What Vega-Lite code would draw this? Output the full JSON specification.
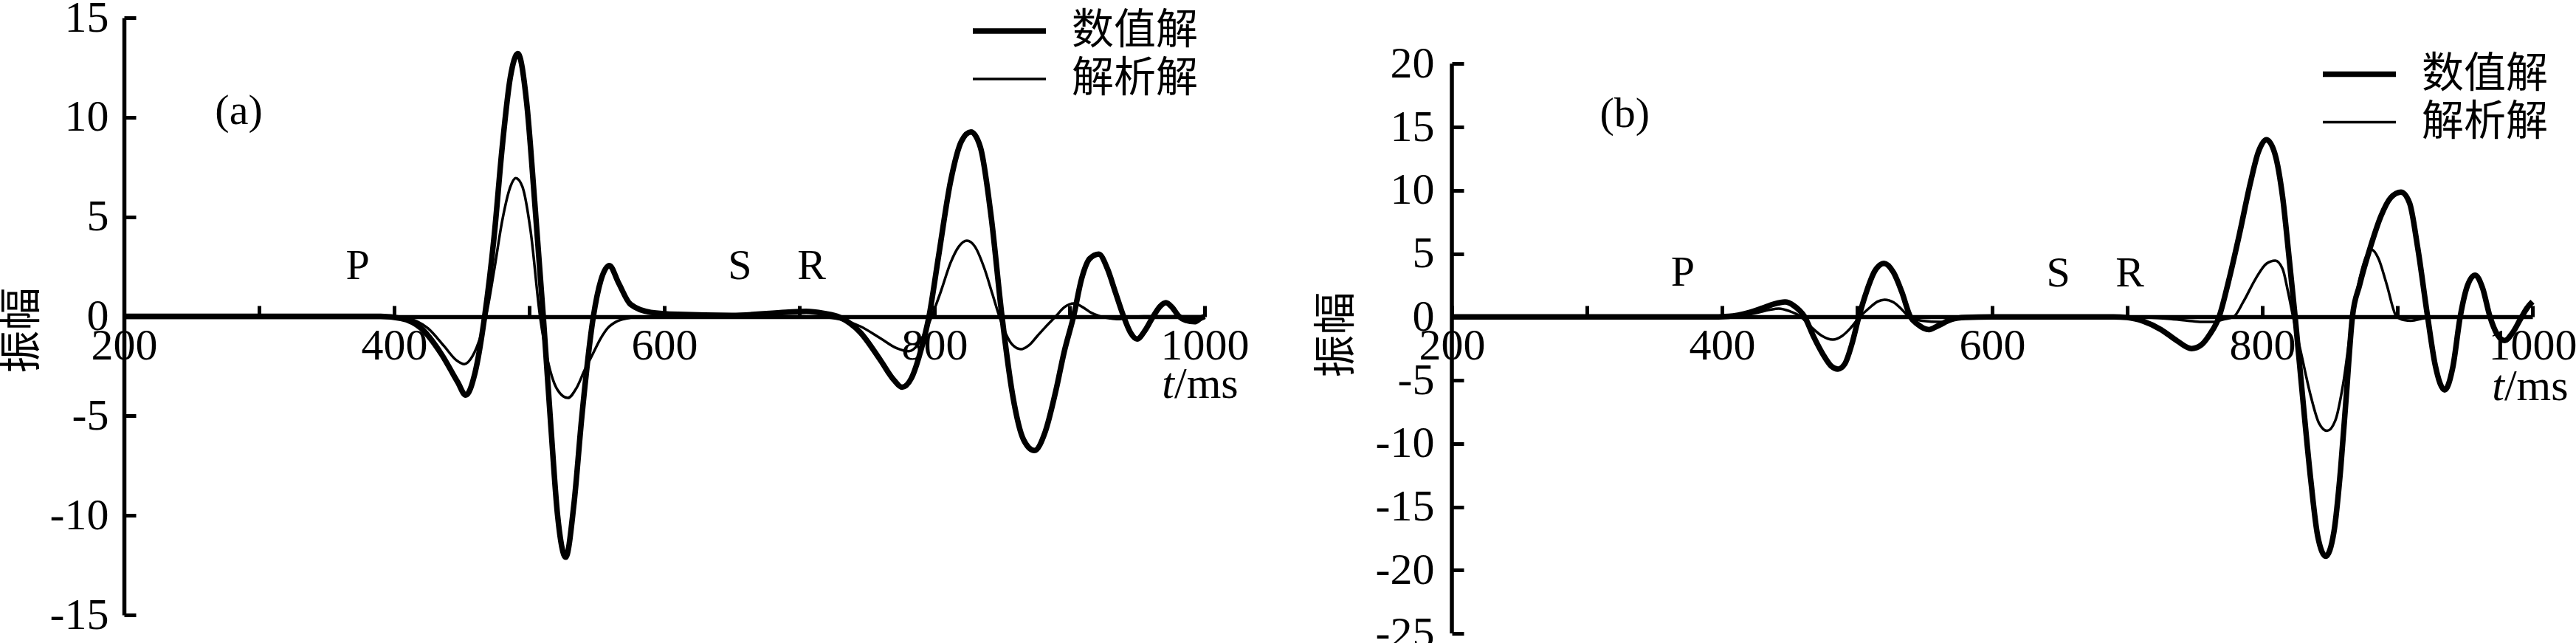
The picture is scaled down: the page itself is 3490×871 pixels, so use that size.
{
  "$schema": "https://vega.github.io/schema/vega-lite/v6.json",
  "background": "white",
  "padding": {"left": 168, "top": 24, "right": 3322, "bottom": 847},
  "autosize": {"type": "none"},
  "bounds": "flush",
  "spacing": 335,
  "config": {
    "view": {"stroke": null},
    "font": "Liberation Serif",
    "axis": {
      "grid": false,
      "domainColor": "black",
      "domainWidth": 5.5,
      "tickColor": "black",
      "tickWidth": 5,
      "labelFont": "Liberation Serif",
      "labelFontSize": 60,
      "labelColor": "black",
      "labelFlush": false,
      "labelOverlap": false,
      "titleColor": "black",
      "titleFontWeight": "normal"
    },
    "legend": {
      "labelFont": "Noto Sans CJK SC",
      "labelFontSize": 57,
      "labelColor": "black",
      "labelLimit": 600,
      "padding": 0
    }
  },
  "resolve": {
    "scale": {"x": "independent", "y": "independent", "strokeWidth": "independent"},
    "axis": {"x": "independent", "y": "independent"},
    "legend": {"strokeWidth": "independent"}
  },
  "hconcat": [
    {
      "width": 1464,
      "height": 809,
      "layer": [
        {
          "data": {"values": [
            {"t":200,"v":0,"s":"数值解"},{"t":300,"v":0,"s":"数值解"},{"t":390,"v":0,"s":"数值解"},{"t":405,"v":-0.1,"s":"数值解"},{"t":420,"v":-0.6,"s":"数值解"},{"t":435,"v":-1.9,"s":"数值解"},{"t":447,"v":-3.3,"s":"数值解"},{"t":453,"v":-3.96,"s":"数值解"},{"t":460,"v":-2.8,"s":"数值解"},{"t":467,"v":0,"s":"数值解"},{"t":474,"v":4,"s":"数值解"},{"t":480,"v":8.5,"s":"数值解"},{"t":486,"v":12,"s":"数值解"},{"t":491.6,"v":13.2,"s":"数值解"},{"t":498,"v":10.8,"s":"数值解"},{"t":504,"v":5.8,"s":"数值解"},{"t":510.4,"v":0,"s":"数值解"},{"t":516,"v":-5.5,"s":"数值解"},{"t":521,"v":-10,"s":"数值解"},{"t":527,"v":-12.1,"s":"数值解"},{"t":533,"v":-9.5,"s":"数值解"},{"t":539,"v":-5,"s":"数值解"},{"t":547.5,"v":0,"s":"数值解"},{"t":553,"v":1.8,"s":"数值解"},{"t":559.4,"v":2.55,"s":"数值解"},{"t":566,"v":1.7,"s":"数值解"},{"t":575,"v":0.6,"s":"数值解"},{"t":590,"v":0.2,"s":"数值解"},{"t":610,"v":0.1,"s":"数值解"},{"t":650,"v":0.05,"s":"数值解"},{"t":690,"v":0.2,"s":"数值解"},{"t":705,"v":0.25,"s":"数值解"},{"t":718,"v":0.15,"s":"数值解"},{"t":730,"v":-0.05,"s":"数值解"},{"t":745,"v":-0.8,"s":"数值解"},{"t":760,"v":-2.2,"s":"数值解"},{"t":770,"v":-3.2,"s":"数值解"},{"t":776,"v":-3.56,"s":"数值解"},{"t":783,"v":-3.1,"s":"数值解"},{"t":790,"v":-1.7,"s":"数值解"},{"t":796,"v":0,"s":"数值解"},{"t":803,"v":3,"s":"数值解"},{"t":812,"v":6.8,"s":"数值解"},{"t":820,"v":8.8,"s":"数值解"},{"t":827,"v":9.26,"s":"数值解"},{"t":834,"v":8.5,"s":"数值解"},{"t":842,"v":5,"s":"数值解"},{"t":850,"v":0,"s":"数值解"},{"t":858,"v":-4,"s":"数值解"},{"t":866,"v":-6.2,"s":"数值解"},{"t":874,"v":-6.74,"s":"数值解"},{"t":882,"v":-5.8,"s":"数值解"},{"t":890,"v":-3.7,"s":"数值解"},{"t":896,"v":-1.8,"s":"数值解"},{"t":903,"v":0,"s":"数值解"},{"t":909,"v":1.9,"s":"数值解"},{"t":915,"v":2.9,"s":"数值解"},{"t":921.7,"v":3.12,"s":"数值解"},{"t":928,"v":2.4,"s":"数值解"},{"t":934,"v":1.2,"s":"数值解"},{"t":940,"v":0,"s":"数值解"},{"t":945,"v":-0.8,"s":"数值解"},{"t":950,"v":-1.14,"s":"数值解"},{"t":956,"v":-0.7,"s":"数值解"},{"t":962,"v":0,"s":"数值解"},{"t":967,"v":0.5,"s":"数值解"},{"t":971.4,"v":0.69,"s":"数值解"},{"t":976,"v":0.45,"s":"数值解"},{"t":981,"v":0,"s":"数值解"},{"t":986,"v":-0.2,"s":"数值解"},{"t":992.7,"v":-0.27,"s":"数值解"},{"t":997,"v":-0.1,"s":"数值解"},{"t":1000,"v":0,"s":"数值解"},
            {"t":200,"v":0,"s":"解析解"},{"t":300,"v":0,"s":"解析解"},{"t":395,"v":0,"s":"解析解"},{"t":410,"v":-0.1,"s":"解析解"},{"t":425,"v":-0.6,"s":"解析解"},{"t":437,"v":-1.5,"s":"解析解"},{"t":446,"v":-2.2,"s":"解析解"},{"t":452,"v":-2.4,"s":"解析解"},{"t":458,"v":-2.0,"s":"解析解"},{"t":464,"v":-1.0,"s":"解析解"},{"t":468,"v":0,"s":"解析解"},{"t":474,"v":2.3,"s":"解析解"},{"t":480,"v":4.8,"s":"解析解"},{"t":486,"v":6.5,"s":"解析解"},{"t":490,"v":6.94,"s":"解析解"},{"t":495,"v":6.5,"s":"解析解"},{"t":501,"v":4.3,"s":"解析解"},{"t":508,"v":0,"s":"解析解"},{"t":514,"v":-2.3,"s":"解析解"},{"t":521,"v":-3.7,"s":"解析解"},{"t":528.6,"v":-4.1,"s":"解析解"},{"t":535,"v":-3.6,"s":"解析解"},{"t":541,"v":-2.7,"s":"解析解"},{"t":547,"v":-1.9,"s":"解析解"},{"t":553,"v":-1.1,"s":"解析解"},{"t":558,"v":-0.6,"s":"解析解"},{"t":565,"v":-0.25,"s":"解析解"},{"t":575,"v":-0.07,"s":"解析解"},{"t":590,"v":0,"s":"解析解"},{"t":700,"v":0,"s":"解析解"},{"t":715,"v":-0.03,"s":"解析解"},{"t":730,"v":-0.15,"s":"解析解"},{"t":745,"v":-0.5,"s":"解析解"},{"t":760,"v":-1.1,"s":"解析解"},{"t":772,"v":-1.6,"s":"解析解"},{"t":781,"v":-1.75,"s":"解析解"},{"t":788,"v":-1.4,"s":"解析解"},{"t":793,"v":-0.8,"s":"解析解"},{"t":798,"v":0,"s":"解析解"},{"t":805,"v":1.3,"s":"解析解"},{"t":812,"v":2.7,"s":"解析解"},{"t":818,"v":3.5,"s":"解析解"},{"t":824,"v":3.8,"s":"解析解"},{"t":830,"v":3.5,"s":"解析解"},{"t":837,"v":2.4,"s":"解析解"},{"t":843,"v":1.1,"s":"解析解"},{"t":848,"v":0,"s":"解析解"},{"t":853,"v":-0.9,"s":"解析解"},{"t":858,"v":-1.45,"s":"解析解"},{"t":864,"v":-1.65,"s":"解析解"},{"t":870,"v":-1.45,"s":"解析解"},{"t":876,"v":-1.0,"s":"解析解"},{"t":882,"v":-0.55,"s":"解析解"},{"t":889.8,"v":0,"s":"解析解"},{"t":896,"v":0.45,"s":"解析解"},{"t":903.5,"v":0.65,"s":"解析解"},{"t":910,"v":0.45,"s":"解析解"},{"t":916,"v":0.18,"s":"解析解"},{"t":922.6,"v":0,"s":"解析解"},{"t":930,"v":-0.1,"s":"解析解"},{"t":936,"v":-0.14,"s":"解析解"},{"t":945,"v":-0.05,"s":"解析解"},{"t":955,"v":0,"s":"解析解"},{"t":1000,"v":0,"s":"解析解"}
          ]},
          "mark": {"type": "line", "interpolate": "monotone", "color": "black"},
          "encoding": {
            "x": {"field": "t", "type": "quantitative",
              "scale": {"domain": [200, 1000], "nice": false, "zero": false},
              "axis": {"orient": "bottom", "offset": -404, "values": [200,300,400,500,600,700,800,900,1000],
                "labelExpr": "datum.value % 200 === 0 ? '' + datum.value : ''",
                "labelFont": "Liberation Serif", "labelFontSize": 60,
                "tickSize": -15, "labelPadding": 25, "title": null}},
            "y": {"field": "v", "type": "quantitative",
              "scale": {"domain": [-15, 15], "nice": false, "zero": false},
              "axis": {"values": [-15,-10,-5,0,5,10,15],
                "labelExpr": "datum.value < 0 ? '-' + abs(datum.value) : '' + datum.value",
                "labelFont": "Liberation Serif", "labelFontSize": 60,
                "tickSize": -16, "labelPadding": 37,
                "title": "振幅", "titleFont": "Noto Sans CJK SC", "titleFontSize": 58,
                "titleX": -138, "titleY": 423, "titleAlign": "center", "titleBaseline": "middle", "titleAngle": -90}},
            "strokeWidth": {"field": "s", "type": "nominal",
              "scale": {"type": "ordinal", "domain": ["数值解", "解析解"], "range": [7.5, 3.5]},
              "legend": {"title": null, "orient": "none", "legendX": 1146, "legendY": -14.5,
                "symbolType": "stroke", "symbolSize": 9801, "symbolStrokeColor": "black",
                "clipHeight": 65, "rowPadding": 0, "labelOffset": 31, "labelBaseline": "middle", "labelLimit": 600}},
            "detail": {"field": "s"}
          }
        },
        {
          "data": {"values": [
            {"t":285,"v":10.3,"label":"(a)"},{"t":373,"v":2.5,"label":"P"},{"t":656,"v":2.5,"label":"S"},{"t":709,"v":2.5,"label":"R"}
          ]},
          "mark": {"type": "text", "font": "Liberation Serif", "fontSize": 58, "color": "black", "baseline": "middle", "align": "center"},
          "encoding": {
            "x": {"field": "t", "type": "quantitative"},
            "y": {"field": "v", "type": "quantitative"},
            "text": {"field": "label"}
          }
        },
        {
          "data": {"values": [{"t":977.6,"v":-4.11,"label":"t"}]},
          "mark": {"type": "text", "font": "Liberation Serif", "fontSize": 60, "fontStyle": "italic", "color": "black", "baseline": "alphabetic", "align": "right"},
          "encoding": {
            "x": {"field": "t", "type": "quantitative"},
            "y": {"field": "v", "type": "quantitative"},
            "text": {"field": "label"}
          }
        },
        {
          "data": {"values": [{"t":977.6,"v":-4.11,"label":"/ms"}]},
          "mark": {"type": "text", "font": "Liberation Serif", "fontSize": 60, "color": "black", "baseline": "alphabetic", "align": "left"},
          "encoding": {
            "x": {"field": "t", "type": "quantitative"},
            "y": {"field": "v", "type": "quantitative"},
            "text": {"field": "label"}
          }
        }
      ]
    },
    {
      "width": 1464,
      "height": 834,
      "layer": [
        {
          "data": {"values": [
            {"t":200,"v":0,"s":"数值解"},{"t":300,"v":0,"s":"数值解"},{"t":390,"v":0,"s":"数值解"},{"t":405,"v":0.05,"s":"数值解"},{"t":420,"v":0.35,"s":"数值解"},{"t":430,"v":0.7,"s":"数值解"},{"t":438,"v":1.0,"s":"数值解"},{"t":446.6,"v":1.18,"s":"数值解"},{"t":453,"v":0.9,"s":"数值解"},{"t":461.2,"v":0,"s":"数值解"},{"t":468,"v":-1.6,"s":"数值解"},{"t":475,"v":-3.0,"s":"数值解"},{"t":481,"v":-3.9,"s":"数值解"},{"t":485.8,"v":-4.12,"s":"数值解"},{"t":491,"v":-3.7,"s":"数值解"},{"t":496,"v":-2.2,"s":"数值解"},{"t":501.3,"v":0,"s":"数值解"},{"t":507,"v":2.0,"s":"数值解"},{"t":513,"v":3.6,"s":"数值解"},{"t":520,"v":4.23,"s":"数值解"},{"t":527,"v":3.5,"s":"数值解"},{"t":533,"v":2.0,"s":"数值解"},{"t":539.5,"v":0,"s":"数值解"},{"t":545,"v":-0.6,"s":"数值解"},{"t":553.2,"v":-1.01,"s":"数值解"},{"t":560,"v":-0.7,"s":"数值解"},{"t":570,"v":-0.2,"s":"数值解"},{"t":580,"v":-0.05,"s":"数值解"},{"t":600,"v":0,"s":"数值解"},{"t":690,"v":0,"s":"数值解"},{"t":700,"v":-0.05,"s":"数值解"},{"t":712,"v":-0.35,"s":"数值解"},{"t":725,"v":-1.0,"s":"数值解"},{"t":737,"v":-1.9,"s":"数值解"},{"t":747.6,"v":-2.5,"s":"数值解"},{"t":755,"v":-2.2,"s":"数值解"},{"t":761,"v":-1.4,"s":"数值解"},{"t":768,"v":0,"s":"数值解"},{"t":775,"v":2.8,"s":"数值解"},{"t":783,"v":6.5,"s":"数值解"},{"t":791,"v":10.5,"s":"数值解"},{"t":797,"v":13.0,"s":"数值解"},{"t":803,"v":14.0,"s":"数值解"},{"t":809,"v":13.0,"s":"数值解"},{"t":815,"v":9.5,"s":"数值解"},{"t":820,"v":4.5,"s":"数值解"},{"t":824.3,"v":0,"s":"数值解"},{"t":830,"v":-6.5,"s":"数值解"},{"t":836,"v":-13.0,"s":"数值解"},{"t":841,"v":-17.3,"s":"数值解"},{"t":847,"v":-18.9,"s":"数值解"},{"t":853,"v":-17.0,"s":"数值解"},{"t":858,"v":-12,"s":"数值解"},{"t":862,"v":-6.5,"s":"数值解"},{"t":866.7,"v":0,"s":"数值解"},{"t":872,"v":2.5,"s":"数值解"},{"t":880,"v":5.5,"s":"数值解"},{"t":888,"v":8.0,"s":"数值解"},{"t":895,"v":9.4,"s":"数值解"},{"t":902.7,"v":9.85,"s":"数值解"},{"t":909,"v":9.0,"s":"数值解"},{"t":915,"v":5.5,"s":"数值解"},{"t":922.4,"v":0,"s":"数值解"},{"t":928,"v":-3.8,"s":"数值解"},{"t":935,"v":-5.77,"s":"数值解"},{"t":941,"v":-4.0,"s":"数值解"},{"t":946.5,"v":0,"s":"数值解"},{"t":952,"v":2.5,"s":"数值解"},{"t":957.6,"v":3.3,"s":"数值解"},{"t":963,"v":2.3,"s":"数值解"},{"t":968.6,"v":0,"s":"数值解"},{"t":974,"v":-1.4,"s":"数值解"},{"t":979.6,"v":-1.87,"s":"数值解"},{"t":985,"v":-1.3,"s":"数值解"},{"t":992,"v":0,"s":"数值解"},{"t":996,"v":0.7,"s":"数值解"},{"t":1000,"v":1.2,"s":"数值解"},
            {"t":200,"v":0,"s":"解析解"},{"t":300,"v":0,"s":"解析解"},{"t":395,"v":0,"s":"解析解"},{"t":410,"v":0.05,"s":"解析解"},{"t":425,"v":0.3,"s":"解析解"},{"t":435,"v":0.55,"s":"解析解"},{"t":442,"v":0.66,"s":"解析解"},{"t":450,"v":0.45,"s":"解析解"},{"t":458.5,"v":0,"s":"解析解"},{"t":466,"v":-0.8,"s":"解析解"},{"t":474,"v":-1.5,"s":"解析解"},{"t":482,"v":-1.79,"s":"解析解"},{"t":489,"v":-1.5,"s":"解析解"},{"t":495,"v":-0.9,"s":"解析解"},{"t":502,"v":0,"s":"解析解"},{"t":509,"v":0.7,"s":"解析解"},{"t":515,"v":1.2,"s":"解析解"},{"t":520.4,"v":1.36,"s":"解析解"},{"t":527,"v":1.15,"s":"解析解"},{"t":533,"v":0.6,"s":"解析解"},{"t":538.6,"v":0,"s":"解析解"},{"t":548,"v":-0.3,"s":"解析解"},{"t":562,"v":-0.4,"s":"解析解"},{"t":570,"v":-0.15,"s":"解析解"},{"t":580,"v":0,"s":"解析解"},{"t":700,"v":0,"s":"解析解"},{"t":715,"v":-0.05,"s":"解析解"},{"t":730,"v":-0.15,"s":"解析解"},{"t":745,"v":-0.3,"s":"解析解"},{"t":755,"v":-0.4,"s":"解析解"},{"t":764,"v":-0.4,"s":"解析解"},{"t":771,"v":-0.2,"s":"解析解"},{"t":778.7,"v":0,"s":"解析解"},{"t":786,"v":1.2,"s":"解析解"},{"t":795,"v":3.0,"s":"解析解"},{"t":803,"v":4.2,"s":"解析解"},{"t":809.6,"v":4.45,"s":"解析解"},{"t":815,"v":3.8,"s":"解析解"},{"t":819,"v":2.0,"s":"解析解"},{"t":822.8,"v":0,"s":"解析解"},{"t":829,"v":-3.0,"s":"解析解"},{"t":836,"v":-6.3,"s":"解析解"},{"t":842,"v":-8.4,"s":"解析解"},{"t":848,"v":-9.0,"s":"解析解"},{"t":854,"v":-8.2,"s":"解析解"},{"t":860,"v":-5.2,"s":"解析解"},{"t":866.7,"v":0,"s":"解析解"},{"t":872,"v":3.0,"s":"解析解"},{"t":877,"v":4.8,"s":"解析解"},{"t":881,"v":5.3,"s":"解析解"},{"t":886,"v":4.6,"s":"解析解"},{"t":892,"v":2.6,"s":"解析解"},{"t":899.5,"v":0,"s":"解析解"},{"t":905,"v":-0.25,"s":"解析解"},{"t":910,"v":-0.3,"s":"解析解"},{"t":920,"v":-0.1,"s":"解析解"},{"t":930,"v":0,"s":"解析解"},{"t":1000,"v":0,"s":"解析解"}
          ]},
          "mark": {"type": "line", "interpolate": "monotone", "color": "black"},
          "encoding": {
            "x": {"field": "t", "type": "quantitative",
              "scale": {"domain": [200, 1000], "nice": false, "zero": false},
              "axis": {"orient": "bottom", "offset": -429, "values": [200,300,400,500,600,700,800,900,1000],
                "labelExpr": "datum.value % 200 === 0 ? '' + datum.value : ''",
                "labelFont": "Liberation Serif", "labelFontSize": 60,
                "tickSize": -15, "labelPadding": 25, "title": null}},
            "y": {"field": "v", "type": "quantitative",
              "scale": {"domain": [-25, 23.63], "nice": false, "zero": false},
              "axis": {"values": [-25,-20,-15,-10,-5,0,5,10,15,20], "domain": false,
                "labelExpr": "datum.value < 0 ? '-' + abs(datum.value) : '' + datum.value",
                "labelFont": "Liberation Serif", "labelFontSize": 60,
                "tickSize": -16, "labelPadding": 40,
                "title": "振幅", "titleFont": "Noto Sans CJK SC", "titleFontSize": 58,
                "titleX": -156, "titleY": 429, "titleAlign": "center", "titleBaseline": "middle", "titleAngle": -90}},
            "strokeWidth": {"field": "s", "type": "nominal",
              "scale": {"type": "ordinal", "domain": ["数值解", "解析解"], "range": [7.5, 3.5]},
              "legend": {"title": null, "orient": "none", "legendX": 1176, "legendY": 44,
                "symbolType": "stroke", "symbolSize": 9801, "symbolStrokeColor": "black",
                "clipHeight": 65, "rowPadding": 0, "labelOffset": 31, "labelBaseline": "middle", "labelLimit": 600}},
            "detail": {"field": "s"}
          }
        },
        {
          "data": {"values": [{"t":200,"lo":-25,"hi":20}]},
          "mark": {"type": "rule", "color": "black", "strokeWidth": 5.5},
          "encoding": {
            "x": {"field": "t", "type": "quantitative"},
            "y": {"field": "lo", "type": "quantitative"},
            "y2": {"field": "hi"}
          }
        },
        {
          "data": {"values": [
            {"t":328,"v":16.0,"label":"(b)"},{"t":371,"v":3.45,"label":"P"},{"t":649,"v":3.4,"label":"S"},{"t":702,"v":3.4,"label":"R"}
          ]},
          "mark": {"type": "text", "font": "Liberation Serif", "fontSize": 58, "color": "black", "baseline": "middle", "align": "center"},
          "encoding": {
            "x": {"field": "t", "type": "quantitative"},
            "y": {"field": "v", "type": "quantitative"},
            "text": {"field": "label"}
          }
        },
        {
          "data": {"values": [{"t":979.2,"v":-6.6,"label":"t"}]},
          "mark": {"type": "text", "font": "Liberation Serif", "fontSize": 60, "fontStyle": "italic", "color": "black", "baseline": "alphabetic", "align": "right"},
          "encoding": {
            "x": {"field": "t", "type": "quantitative"},
            "y": {"field": "v", "type": "quantitative"},
            "text": {"field": "label"}
          }
        },
        {
          "data": {"values": [{"t":979.2,"v":-6.6,"label":"/ms"}]},
          "mark": {"type": "text", "font": "Liberation Serif", "fontSize": 60, "color": "black", "baseline": "alphabetic", "align": "left"},
          "encoding": {
            "x": {"field": "t", "type": "quantitative"},
            "y": {"field": "v", "type": "quantitative"},
            "text": {"field": "label"}
          }
        }
      ]
    }
  ]
}
